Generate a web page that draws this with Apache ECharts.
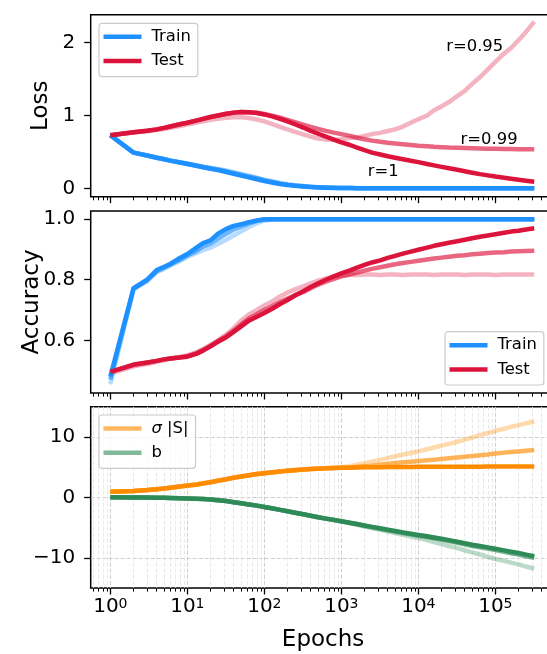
<!DOCTYPE html>
<html>
<head>
<meta charset="utf-8">
<script src="https://cdn.jsdelivr.net/npm/echarts@6/dist/echarts.min.js"></script>
<style>
  html, body { margin: 0; padding: 0; background: #fff; overflow: hidden; }
  #chart { width: 547px; height: 654px; }
</style>
</head>
<body>
<div id="chart"></div>
<script>
// Training epochs at which the curves were recorded (log-spaced)
const epochs = [1, 2, 3, 4, 5, 6, 8, 10, 13, 16, 20, 25, 32, 40, 50, 63, 80, 100,
  130, 160, 200, 250, 320, 400, 500, 630, 800, 1000, 1300, 1600, 2000, 2500, 3200,
  4000, 5000, 6300, 8000, 1e4, 1.3e4, 1.6e4, 2e4, 2.5e4, 3.2e4, 4e4, 5e4, 6.3e4,
  8e4, 1e5, 1.3e5, 1.6e5, 2e5, 2.5e5, 3.2e5];

// Loss — train
const lossTrainR1 = [0.73, 0.49, 0.45, 0.42, 0.40, 0.38, 0.355, 0.335, 0.31, 0.29,
  0.27, 0.25, 0.225, 0.20, 0.175, 0.15, 0.125, 0.10, 0.077, 0.06, 0.045, 0.034,
  0.025, 0.018, 0.013, 0.009, 0.006, 0.004, 0.003, 0.002, 0.002, 0.001, 0.001,
  0, 0, 0, 0, 0, 0, 0, 0, 0, 0, 0, 0, 0, 0, 0, 0, 0, 0, 0, 0];
const lossTrainR099 = [0.73, 0.49, 0.45, 0.42, 0.40, 0.38, 0.356, 0.337, 0.313, 0.294,
  0.276, 0.258, 0.235, 0.212, 0.188, 0.163, 0.138, 0.112, 0.087, 0.068, 0.051, 0.038,
  0.028, 0.02, 0.014, 0.01, 0.007, 0.005, 0.003, 0.002, 0.002, 0.001, 0.001,
  0, 0, 0, 0, 0, 0, 0, 0, 0, 0, 0, 0, 0, 0, 0, 0, 0, 0, 0, 0];
const lossTrainR095 = [0.73, 0.49, 0.452, 0.423, 0.403, 0.384, 0.36, 0.341, 0.318, 0.30,
  0.283, 0.266, 0.244, 0.222, 0.198, 0.172, 0.146, 0.12, 0.094, 0.074, 0.056, 0.042,
  0.031, 0.022, 0.016, 0.011, 0.008, 0.005, 0.004, 0.003, 0.002, 0.002, 0.001,
  0.001, 0, 0, 0, 0, 0, 0, 0, 0, 0, 0, 0, 0, 0, 0, 0, 0, 0, 0, 0];

// Loss — test
const lossTestR1 = [0.73, 0.77, 0.79, 0.81, 0.83, 0.85, 0.88, 0.90, 0.93, 0.955,
  0.98, 1.0, 1.025, 1.04, 1.05, 1.045, 1.035, 1.015, 0.985, 0.955, 0.92, 0.88,
  0.835, 0.79, 0.75, 0.71, 0.67, 0.63, 0.595, 0.56, 0.525, 0.49, 0.465, 0.44,
  0.42, 0.40, 0.38, 0.36, 0.335, 0.315, 0.295, 0.275, 0.255, 0.235, 0.215, 0.195,
  0.178, 0.162, 0.146, 0.132, 0.118, 0.104, 0.09];
const lossTestR099 = [0.73, 0.77, 0.79, 0.81, 0.83, 0.85, 0.88, 0.90, 0.93, 0.955,
  0.98, 1.0, 1.022, 1.037, 1.047, 1.045, 1.037, 1.02, 0.995, 0.97, 0.94, 0.91,
  0.875, 0.845, 0.815, 0.79, 0.765, 0.745, 0.72, 0.695, 0.675, 0.655, 0.64, 0.625,
  0.615, 0.605, 0.595, 0.585, 0.578, 0.57, 0.565, 0.56, 0.557, 0.553, 0.55, 0.547,
  0.545, 0.543, 0.541, 0.54, 0.538, 0.537, 0.536];
const lossTestR095 = [0.73, 0.765, 0.785, 0.80, 0.815, 0.83, 0.855, 0.875, 0.90, 0.92,
  0.94, 0.955, 0.97, 0.975, 0.975, 0.965, 0.945, 0.92, 0.88, 0.845, 0.81, 0.775,
  0.74, 0.71, 0.685, 0.67, 0.665, 0.675, 0.69, 0.70, 0.72, 0.745, 0.762, 0.788,
  0.81, 0.848, 0.902, 0.948, 1.0, 1.072, 1.125, 1.185, 1.268, 1.338, 1.435, 1.525,
  1.635, 1.738, 1.852, 1.928, 2.035, 2.148, 2.29];

// Accuracy — train
const accTrainR1 = [0.48, 0.772, 0.80, 0.832, 0.843, 0.852, 0.872, 0.885, 0.905, 0.921,
  0.93, 0.952, 0.968, 0.978, 0.983, 0.99, 0.996, 1.0, 1.0, 1.0, 1.0, 1.0, 1.0, 1.0,
  1.0, 1.0, 1.0, 1.0, 1.0, 1.0, 1.0, 1.0, 1.0, 1.0, 1.0, 1.0, 1.0, 1.0, 1.0, 1.0,
  1.0, 1.0, 1.0, 1.0, 1.0, 1.0, 1.0, 1.0, 1.0, 1.0, 1.0, 1.0, 1.0];
const accTrainR099 = [0.47, 0.77, 0.798, 0.828, 0.84, 0.85, 0.866, 0.88, 0.895, 0.91,
  0.92, 0.935, 0.952, 0.966, 0.976, 0.986, 0.994, 0.999, 1.0, 1.0, 1.0, 1.0, 1.0, 1.0,
  1.0, 1.0, 1.0, 1.0, 1.0, 1.0, 1.0, 1.0, 1.0, 1.0, 1.0, 1.0, 1.0, 1.0, 1.0, 1.0,
  1.0, 1.0, 1.0, 1.0, 1.0, 1.0, 1.0, 1.0, 1.0, 1.0, 1.0, 1.0, 1.0];
const accTrainR095 = [0.455, 0.768, 0.795, 0.825, 0.836, 0.846, 0.862, 0.876, 0.888, 0.898,
  0.906, 0.918, 0.932, 0.946, 0.96, 0.974, 0.987, 0.995, 0.999, 1.0, 1.0, 1.0, 1.0, 1.0,
  1.0, 1.0, 1.0, 1.0, 1.0, 1.0, 1.0, 1.0, 1.0, 1.0, 1.0, 1.0, 1.0, 1.0, 1.0, 1.0,
  1.0, 1.0, 1.0, 1.0, 1.0, 1.0, 1.0, 1.0, 1.0, 1.0, 1.0, 1.0, 1.0];

// Accuracy — test
const accTestR1 = [0.496, 0.52, 0.527, 0.532, 0.537, 0.54, 0.543, 0.546, 0.555, 0.566,
  0.58, 0.595, 0.61, 0.628, 0.646, 0.665, 0.678, 0.69, 0.706, 0.72, 0.733, 0.748,
  0.762, 0.776, 0.788, 0.80, 0.811, 0.821, 0.831, 0.84, 0.849, 0.857, 0.864, 0.872,
  0.879, 0.886, 0.893, 0.899, 0.906, 0.912, 0.917, 0.922, 0.927, 0.932, 0.937, 0.942,
  0.946, 0.95, 0.955, 0.959, 0.962, 0.966, 0.97];
const accTestR099 = [0.496, 0.518, 0.526, 0.532, 0.537, 0.54, 0.544, 0.548, 0.557, 0.568,
  0.582, 0.598, 0.614, 0.632, 0.652, 0.672, 0.686, 0.70, 0.714, 0.727, 0.738, 0.749,
  0.76, 0.772, 0.784, 0.794, 0.803, 0.811, 0.818, 0.824, 0.83, 0.836, 0.841, 0.846,
  0.851, 0.855, 0.859, 0.863, 0.867, 0.87, 0.873, 0.876, 0.879, 0.881, 0.884, 0.886,
  0.888, 0.89, 0.891, 0.893, 0.894, 0.895, 0.896];
const accTestR095 = [0.49, 0.514, 0.522, 0.529, 0.535, 0.539, 0.544, 0.55, 0.56, 0.571,
  0.585, 0.60, 0.62, 0.64, 0.665, 0.685, 0.70, 0.715, 0.73, 0.745, 0.758, 0.768,
  0.778, 0.788, 0.797, 0.804, 0.81, 0.814, 0.816, 0.816, 0.817, 0.817, 0.816, 0.817,
  0.817, 0.816, 0.817, 0.817, 0.817, 0.816, 0.817, 0.817, 0.817, 0.816, 0.817, 0.817,
  0.817, 0.816, 0.817, 0.817, 0.817, 0.817, 0.817];

// Parameters — sigma |S|
const sigmaR1 = [0.93, 1.05, 1.2, 1.35, 1.47, 1.58, 1.78, 1.95, 2.1, 2.3, 2.5, 2.75,
  3.0, 3.25, 3.45, 3.65, 3.85, 4.0, 4.15, 4.28, 4.4, 4.5, 4.6, 4.68, 4.75, 4.8, 4.85,
  4.88, 4.91, 4.94, 4.96, 4.98, 5.0, 5.01, 5.02, 5.03, 5.04, 5.05, 5.05, 5.06, 5.06,
  5.07, 5.07, 5.08, 5.08, 5.08, 5.09, 5.09, 5.09, 5.1, 5.1, 5.1, 5.1];
const sigmaR099 = [0.93, 1.05, 1.2, 1.35, 1.47, 1.58, 1.78, 1.95, 2.12, 2.32, 2.52, 2.77,
  3.02, 3.27, 3.47, 3.67, 3.86, 4.02, 4.17, 4.3, 4.42, 4.52, 4.62, 4.7, 4.77, 4.82, 4.86,
  4.9, 4.96, 5.05, 5.15, 5.25, 5.4, 5.55, 5.7, 5.8, 5.9, 6.0, 6.12, 6.24, 6.35, 6.47,
  6.6, 6.72, 6.85, 6.98, 7.1, 7.25, 7.4, 7.5, 7.6, 7.72, 7.85];
const sigmaR095 = [0.93, 1.04, 1.19, 1.34, 1.46, 1.57, 1.77, 1.94, 2.12, 2.32, 2.52, 2.77,
  3.0, 3.24, 3.44, 3.63, 3.82, 3.98, 4.13, 4.26, 4.38, 4.48, 4.58, 4.67, 4.74, 4.82, 4.9,
  5.0, 5.2, 5.4, 5.65, 5.9, 6.2, 6.5, 6.8, 7.1, 7.35, 7.6, 7.95, 8.25, 8.55, 8.85, 9.2,
  9.55, 9.9, 10.3, 10.65, 11.0, 11.35, 11.65, 11.95, 12.25, 12.55];

// Parameters — b
const bR1 = [0, -0.02, -0.04, -0.06, -0.08, -0.1, -0.13, -0.17, -0.22, -0.28, -0.36, -0.47,
  -0.62, -0.8, -0.98, -1.18, -1.37, -1.6, -1.85, -2.07, -2.3, -2.55, -2.8, -3.05, -3.3,
  -3.52, -3.73, -3.95, -4.2, -4.42, -4.65, -4.88, -5.12, -5.35, -5.57, -5.8, -6.02,
  -6.22, -6.45, -6.65, -6.85, -7.08, -7.35, -7.6, -7.85, -8.05, -8.28, -8.5, -8.78,
  -9.0, -9.22, -9.48, -9.75];
const bR099 = [0, -0.02, -0.04, -0.06, -0.08, -0.1, -0.13, -0.17, -0.22, -0.28, -0.36, -0.47,
  -0.62, -0.8, -0.98, -1.18, -1.37, -1.6, -1.85, -2.07, -2.3, -2.55, -2.8, -3.05, -3.3,
  -3.52, -3.74, -3.97, -4.23, -4.46, -4.7, -4.94, -5.19, -5.43, -5.66, -5.9, -6.13,
  -6.34, -6.58, -6.79, -7.0, -7.24, -7.52, -7.78, -8.04, -8.25, -8.49, -8.72, -9.01,
  -9.24, -9.47, -9.74, -10.0];
const bR095 = [0, -0.02, -0.04, -0.06, -0.08, -0.1, -0.13, -0.17, -0.22, -0.28, -0.36, -0.47,
  -0.62, -0.8, -0.98, -1.18, -1.37, -1.6, -1.85, -2.07, -2.3, -2.55, -2.8, -3.05, -3.3,
  -3.53, -3.76, -4.0, -4.3, -4.55, -4.82, -5.1, -5.38, -5.65, -5.92, -6.2, -6.48,
  -6.75, -7.08, -7.4, -7.72, -8.05, -8.4, -8.75, -9.1, -9.45, -9.85, -10.2, -10.5,
  -10.8, -11.1, -11.45, -11.8];

// Tick values
const xTickExponents = [0, 1, 2, 3, 4, 5];
const lossTicks = [0, 1, 2];
const accTicks = [0.6, 0.8, 1.0];
const paramTicks = [-10, 0, 10];

// In-plot run labels for the test-loss curves
const runLabels = ['r=0.95', 'r=0.99', 'r=1'];
const runLabelEpochs = [5.4e4, 8.3e4, 3.5e3];
const runLabelLoss = [1.945, 0.664, 0.228];

const FONT = 'DejaVu Sans';
const C_TRAIN = '#1e90ff', C_TEST = '#dc143c', C_SIGMA = '#ff8c00', C_B = '#2e8b57';
const ALPHA = { r1: 1, r099: 0.65, r095: 0.32 };

// The x axes work in log10(epochs)
const X_MIN = -0.255, X_MAX = 5.78;
const xMinorTicks = [];
for (let n = -1; n <= 5; n++) {
  for (let k = 2; k <= 9; k++) {
    const v = n + Math.log10(k);
    if (v > X_MIN && v < X_MAX) xMinorTicks.push(v);
  }
}

const chart = echarts.init(document.getElementById('chart'), null, { renderer: 'canvas' });

const gridBase = { left: 90.7, right: -8.4, show: true, borderColor: '#000', borderWidth: 1.5,
  backgroundColor: '#fff', containLabel: false, outerBoundsMode: 'none' };
const grids = [
  Object.assign({ top: 14.7, height: 182 }, gridBase),
  Object.assign({ top: 211, height: 182 }, gridBase),
  Object.assign({ top: 406.7, height: 181.3 }, gridBase)
];

const xAxes = [];
for (let g = 0; g < 3; g++) {
  const last = g === 2;
  xAxes.push({
    type: 'value', gridIndex: g, min: X_MIN, max: X_MAX, position: 'bottom',
    axisLine: { show: false, onZero: false },
    axisTick: { show: true, inside: false, length: 6.5, customValues: xTickExponents,
      lineStyle: { color: '#000', width: 1.3 } },
    axisLabel: { show: last, customValues: xTickExponents, margin: 9,
      formatter: v => `{b|10}{s|${Math.round(v)}}`,
      rich: {
        b: { fontSize: 20, lineHeight: 20, padding: [7, 0, 0, 0], verticalAlign: 'bottom', fontFamily: FONT, color: '#000' },
        s: { fontSize: 14, lineHeight: 14, verticalAlign: 'top', fontFamily: FONT, color: '#000' }
      } },
    splitLine: { show: last, lineStyle: { type: [4, 2], color: '#c8c8c8', width: 0.9 } },
    name: last ? 'Epochs' : '', nameLocation: 'middle', nameGap: 41, nameMoveOverlap: false,
    nameTextStyle: { fontSize: 23, color: '#000', fontFamily: FONT }
  });
  xAxes.push({
    type: 'value', gridIndex: g, min: X_MIN, max: X_MAX, position: 'bottom',
    axisLine: { show: false, onZero: false },
    axisTick: { show: true, inside: false, length: 3.6, customValues: xMinorTicks,
      lineStyle: { color: '#000', width: 1 } },
    axisLabel: { show: false },
    splitLine: { show: last, lineStyle: { type: [4, 2], color: '#e2e2e2', width: 0.8 } }
  });
}

function yAxisFor(g, min, max, ticks, formatter, name, gap, grid) {
  return {
    type: 'value', gridIndex: g, min, max, position: 'left',
    axisLine: { show: false, onZero: false },
    axisTick: { show: true, inside: false, length: 6.5, customValues: ticks,
      lineStyle: { color: '#000', width: 1.3 } },
    axisLabel: { customValues: ticks, formatter, margin: 15.5, fontSize: 20,
      color: '#000', fontFamily: FONT },
    splitLine: { show: grid, lineStyle: { type: [4, 2], color: '#c8c8c8', width: 0.9 } },
    name, nameLocation: 'middle', nameGap: gap, nameMoveOverlap: false,
    nameTextStyle: { fontSize: 23, color: '#000', fontFamily: FONT }
  };
}

const yAxes = [
  yAxisFor(0, -0.115, 2.385, lossTicks, v => String(Math.round(v)), 'Loss', 38, false),
  yAxisFor(1, 0.426, 1.027, accTicks, v => v.toFixed(1), 'Accuracy', 47, false),
  yAxisFor(2, -15, 15, paramTicks, v => (v < 0 ? '\u2212' + Math.abs(v) : String(v)), '', 40, true)
];

function curve(name, g, values, color, alpha) {
  return {
    type: 'line', name, xAxisIndex: 2 * g, yAxisIndex: g,
    data: epochs.map((e, i) => [Math.log10(e), values[i]]),
    symbol: 'none', showSymbol: false, silent: true, animation: false,
    itemStyle: { color },
    lineStyle: { color, width: 4.5, opacity: alpha, cap: 'butt', join: 'round' }
  };
}

const series = [
  // loss
  curve('Train', 0, lossTrainR095, C_TRAIN, ALPHA.r095),
  curve('Test', 0, lossTestR095, C_TEST, ALPHA.r095),
  curve('Train', 0, lossTrainR099, C_TRAIN, ALPHA.r099),
  curve('Test', 0, lossTestR099, C_TEST, ALPHA.r099),
  curve('Train', 0, lossTrainR1, C_TRAIN, ALPHA.r1),
  curve('Test', 0, lossTestR1, C_TEST, ALPHA.r1),
  // accuracy
  curve('Train', 1, accTrainR095, C_TRAIN, ALPHA.r095),
  curve('Test', 1, accTestR095, C_TEST, ALPHA.r095),
  curve('Train', 1, accTrainR099, C_TRAIN, ALPHA.r099),
  curve('Test', 1, accTestR099, C_TEST, ALPHA.r099),
  curve('Train', 1, accTrainR1, C_TRAIN, ALPHA.r1),
  curve('Test', 1, accTestR1, C_TEST, ALPHA.r1),
  // parameters
  curve('σ |S|', 2, sigmaR095, C_SIGMA, ALPHA.r095),
  curve('b', 2, bR095, C_B, ALPHA.r095),
  curve('σ |S|', 2, sigmaR099, C_SIGMA, ALPHA.r099),
  curve('b', 2, bR099, C_B, ALPHA.r099),
  curve('σ |S|', 2, sigmaR1, C_SIGMA, ALPHA.r1),
  curve('b', 2, bR1, C_B, ALPHA.r1)
];

const legendBase = {
  orient: 'vertical', icon: 'rect', itemWidth: 38, itemHeight: 4.5, itemGap: 4.3,
  padding: [3.5, 7, 5.5, 4.5], backgroundColor: 'rgba(255,255,255,0.8)',
  borderColor: '#cccccc', borderWidth: 1.2, borderRadius: 3, selectedMode: false,
  textStyle: { fontSize: 16.4, lineHeight: 20, color: '#000', fontFamily: FONT, padding: [0, 0, 0, 5] }
};

const legends = [
  Object.assign({}, legendBase, { left: 99, top: 23.3, data: ['Train', 'Test'] }),
  Object.assign({}, legendBase, { left: 445, top: 331.7, data: ['Train', 'Test'] }),
  Object.assign({}, legendBase, {
    left: 99, top: 415,
    data: [
      { name: 'σ |S|', itemStyle: { color: 'rgba(255,140,0,0.62)' } },
      { name: 'b', itemStyle: { color: 'rgba(46,139,87,0.6)' } }
    ],
    formatter: n => (n === 'σ |S|' ? '{i|σ} |S|' : n),
    textStyle: Object.assign({}, legendBase.textStyle, {
      rich: { i: { fontStyle: 'italic', fontSize: 16.4, lineHeight: 20, fontFamily: FONT, color: '#000' } }
    })
  })
];

chart.setOption({
  animation: false,
  backgroundColor: '#fff',
  textStyle: { fontFamily: FONT },
  grid: grids,
  xAxis: xAxes,
  yAxis: yAxes,
  legend: legends,
  series
});

// Run labels placed in data coordinates of the loss panel
chart.setOption({
  graphic: runLabels.map((text, i) => {
    const [px, py] = chart.convertToPixel({ xAxisIndex: 0, yAxisIndex: 0 },
      [Math.log10(runLabelEpochs[i]), runLabelLoss[i]]);
    return { type: 'text', x: px, y: py, z: 50, silent: true,
      style: { text, fontSize: 16.4, fill: '#000', fontFamily: FONT, align: 'center', verticalAlign: 'middle' } };
  })
});
</script>
</body>
</html>
